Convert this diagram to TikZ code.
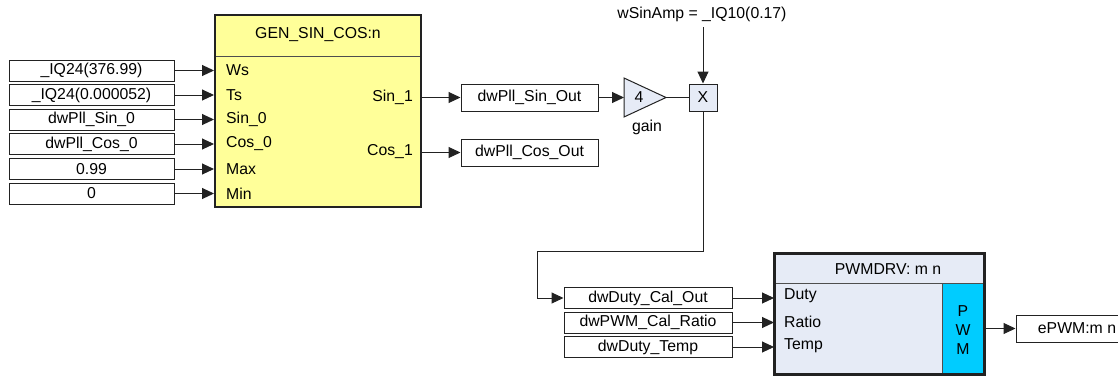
\documentclass[tikz,border=0pt]{standalone}
\usepackage{fontspec}
\setmainfont{Liberation Sans}
\usetikzlibrary{arrows.meta}
\definecolor{genyel}{HTML}{FFFF99}
\definecolor{lblue}{HTML}{E6EBF6}
\definecolor{pwmcyan}{HTML}{00CCFF}
\definecolor{edge}{HTML}{222222}
\begin{document}
\begin{tikzpicture}[x=1pt,y=-1pt,
  font=\fontsize{15.8}{18}\selectfont,
  valbox/.style={draw=edge, line width=1pt, minimum width=165pt, minimum height=21pt, inner sep=0pt, fill=white},
  arr/.style={-{Triangle[length=12pt,width=11pt]}, line width=1pt, draw=edge},
  wire/.style={line width=1pt, draw=edge},
  port/.style={anchor=west, inner sep=0pt},
  rport/.style={anchor=east, inner sep=0pt},
  bigblock/.style={draw=edge, line width=2pt, inner sep=0pt},
  divline/.style={line width=0.9pt, draw=edge!80}]
\useasboundingbox (0,0) rectangle (1118,375);
\clip (0,0) rectangle (1118,375);

% ---- GEN_SIN_COS block
\node[bigblock, fill=genyel, minimum width=206pt, minimum height=192pt] (gen) at (318,111) {};
\draw[divline] (216,56) -- (420,56);
\node (gent) at (318,35) {GEN\_SIN\_COS:n};

% inputs
\node[valbox] (i1) at (91.5,70.5) {\_IQ24(376.99)};
\node[valbox] (i2) at (91.5,95) {\_IQ24(0.000052)};
\node[valbox] (i3) at (91.5,119.5) {dwPll\_Sin\_0};
\node[valbox] (i4) at (91.5,144) {dwPll\_Cos\_0};
\node[valbox] (i5) at (91.5,169) {0.99};
\node[valbox] (i6) at (91.5,193.5) {0};
\foreach \i in {1,...,6} \draw[arr] (i\i.east) -- (i\i.east -| gen.west);

\node[port] (pws) at (226,70.5) {Ws};
\node[port] (pts) at (226,95) {Ts};
\node[port] (psin) at (226,119.5) {Sin\_0};
\node[port] (pcos) at (226,144) {Cos\_0};
\node[port] (pmax) at (226,169) {Max};
\node[port] (pmin) at (226,193.5) {Min};
\node[rport] (psin1) at (413,97.5) {Sin\_1};
\node[rport] (pcos1) at (413,152) {Cos\_1};

% outputs
\node[valbox, minimum width=137pt, minimum height=27pt] (sinout) at (529.5,97.5) {dwPll\_Sin\_Out};
\node[valbox, minimum width=137pt, minimum height=27pt] (cosout) at (529.5,152.5) {dwPll\_Cos\_Out};
\draw[arr] (gen.east |- sinout) -- (sinout.west);
\draw[arr] (gen.east |- cosout) -- (cosout.west);

% gain
\draw[wire, fill=lblue] (624,78) -- (666,97.5) -- (624,117) -- cycle;
\coordinate (gainL) at (624,97.5);
\coordinate (gainR) at (666,97.5);
\node (gainv) at (639,97.5) {4};
\node (gainlbl) at (647,127) {gain};
\draw[arr] (sinout.east) -- (gainL);

% multiplier
\node[draw=edge, line width=1pt, fill=lblue, minimum width=28pt, minimum height=27pt, inner sep=0pt] (mul) at (703,97.5) {X};
\draw[wire] (gainR) -- (mul.west);
\node (amp) at (702,14) {wSinAmp = \_IQ10(0.17)};
\coordinate (ampend) at (703,27);
\draw[arr] (ampend) -- (mul.north);

% PWM inputs
\node[valbox, minimum width=168pt] (d1) at (648,298) {dwDuty\_Cal\_Out};
\node[valbox, minimum width=168pt] (d2) at (648,322.5) {dwPWM\_Cal\_Ratio};
\node[valbox, minimum width=168pt] (d3) at (648,347) {dwDuty\_Temp};
\coordinate (fbA) at (537,251);
\draw[arr] (mul.south) |- (fbA) |- (d1.west);

% PWMDRV block
\node[bigblock, fill=lblue, minimum width=209pt, minimum height=120pt] (pwm) at (879.5,314) {};
\fill[pwmcyan] (942,283) rectangle (983,373);
\draw[divline] (776,283) -- (983,283);
\draw[divline] (942,283) -- (942,373);
\draw[bigblock] (pwm.north west) rectangle (pwm.south east);
\node (pwmt) at (888,269) {PWMDRV: m n};
\node[port] (pduty) at (784,296) {Duty};
\node[port] (pratio) at (784,322) {Ratio};
\node[port] (ptemp) at (784,346) {Temp};
\node (lp) at (963,311) {P};
\node (lw) at (963,330) {W};
\node (lm) at (963,349) {M};
\foreach \i in {1,2,3} \draw[arr] (d\i.east) -- (d\i.east -| pwm.west);

\node[valbox, minimum width=122pt, minimum height=27pt] (epwm) at (1077,328.5) {ePWM:m n};
\draw[arr] (pwm.east |- epwm) -- (epwm.west);
\end{tikzpicture}
\end{document}
